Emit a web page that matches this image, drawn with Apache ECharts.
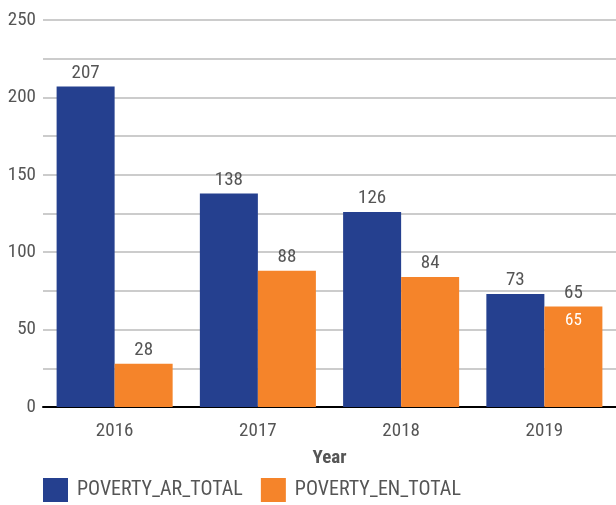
<!DOCTYPE html>
<html><head><meta charset="utf-8">
<script src="https://cdn.jsdelivr.net/npm/echarts@6/dist/echarts.min.js"></script>
<style>html,body{margin:0;padding:0;background:#fff}#c{width:616px;height:505px}</style>
</head><body><div id="c"></div>
<script>
const categories = ['2016', '2017', '2018', '2019'];
const arTotal = [207, 138, 126, 73];
const enTotal = [28, 88, 84, 65];
const FONT = '"Roboto Condensed", "Liberation Sans Narrow", "Roboto", sans-serif';
const chart = echarts.init(document.getElementById('c'));
chart.setOption({
  animation: false,
  textStyle: { fontFamily: FONT },
  grid: { left: 43, right: -3, top: 20, bottom: 98 },
  legend: {
    bottom: -2, left: 38, itemWidth: 25, itemHeight: 24, itemGap: 18,
    icon: 'rect',
    textStyle: { fontFamily: FONT, fontSize: 20, color: '#555', padding: [0, 0, 0, 4] },
    data: ['POVERTY_AR_TOTAL', 'POVERTY_EN_TOTAL']
  },
  xAxis: {
    type: 'category', data: categories,
    name: 'Year', nameLocation: 'middle', nameGap: 42,
    nameTextStyle: { fontFamily: FONT, fontSize: 19, fontWeight: 'bold', color: '#555' },
    axisLine: { lineStyle: { color: '#000', width: 2 } },
    axisTick: { show: false },
    axisLabel: { fontFamily: FONT, fontSize: 19, color: '#555', margin: 15 }
  },
  yAxis: {
    type: 'value', min: 0, max: 250, interval: 25,
    axisLine: { show: false }, axisTick: { show: false },
    axisLabel: { fontFamily: FONT, fontSize: 19, color: '#555', margin: 7,
      formatter: v => (v % 50 === 0 ? String(v) : '') },
    splitLine: { lineStyle: { color: '#cccccc', width: 2 } }
  },
  series: [
    { name: 'POVERTY_AR_TOTAL', type: 'bar', data: arTotal, barGap: '0%', barCategoryGap: '19%',
      itemStyle: { color: '#25408f' },
      label: { show: true, position: 'top', fontFamily: FONT, fontSize: 19, color: '#555', distance: 4 } },
    { name: 'POVERTY_EN_TOTAL', type: 'bar', data: enTotal,
      itemStyle: { color: '#f5842a' },
      label: { show: true, position: 'top', fontFamily: FONT, fontSize: 19, color: '#555', distance: 4 },
      markPoint: {
        symbol: 'rect', symbolSize: 1, itemStyle: { color: 'rgba(0,0,0,0)' },
        label: { show: true, color: '#fff', fontFamily: FONT, fontSize: 17, offset: [0, 14] },
        data: [{ coord: [categories[3], enTotal[3]], value: enTotal[3] }]
      } }
  ]
});
</script></body></html>
